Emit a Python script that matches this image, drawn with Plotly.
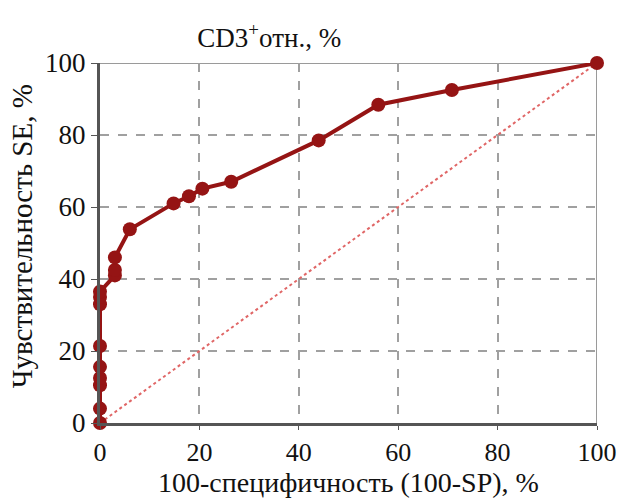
import plotly.graph_objects as go

fpr = [0, 0, 0, 0, 0, 0, 0, 0, 0, 3, 3, 3, 6, 14.8, 17.9, 20.6, 26.4, 44, 56, 70.8, 100]
tpr = [0, 4, 10.5, 12.5, 15.6, 21.4, 33, 35, 36.5, 41, 42.5, 46, 53.8, 61, 63, 65.1, 67, 78.5, 88.4, 92.5, 100]
diag_x = [0, 100]
diag_y = [0, 100]
ticks = [0, 20, 40, 60, 80, 100]
x_title = "100-специфичность (100-SP), %"
y_title = "Чувствительность SE, %"
main_title = "CD3<sup>+</sup>отн., %"

FONT = "Liberation Serif, Times New Roman, serif"
RED = "#951414"

fig = go.Figure()
fig.add_trace(go.Scatter(x=diag_x, y=diag_y, mode="lines",
                         line=dict(color="#e06666", width=2, dash="dot"),
                         hoverinfo="skip", showlegend=False))
fig.add_trace(go.Scatter(x=fpr, y=tpr, mode="lines+markers",
                         line=dict(color=RED, width=4),
                         marker=dict(color=RED, size=14),
                         cliponaxis=False, showlegend=False))

fig.add_shape(type="line", xref="x", yref="y", x0=0, x1=100, y0=100, y1=100,
              line=dict(color="#9a9a9a", width=2), layer="below")
fig.add_shape(type="line", xref="x", yref="y", x0=100, x1=100, y0=0, y1=100,
              line=dict(color="#9a9a9a", width=2), layer="below")

fig.add_annotation(text=x_title, xref="paper", yref="paper", x=0.5, y=-0.165,
                   xanchor="center", yanchor="middle", showarrow=False,
                   font=dict(family=FONT, size=28, color="#111"))
fig.add_annotation(text=y_title, xref="paper", yref="paper", x=-0.158, y=0.52,
                   xanchor="center", yanchor="middle", showarrow=False, textangle=-90,
                   font=dict(family=FONT, size=29, color="#111"))

fig.update_layout(
    width=619, height=499,
    margin=dict(l=100, r=22, t=63, b=76),
    paper_bgcolor="white", plot_bgcolor="white",
    font=dict(family=FONT, size=27, color="#111"),
    title=dict(text=main_title, x=0.435, xanchor="center",
               y=0.905, yanchor="bottom", font=dict(family=FONT, size=27)),
    xaxis=dict(range=[0, 100], tickvals=ticks, showgrid=True,
               gridcolor="#a0a0a0", griddash="dash", gridwidth=2,
               showline=True, linecolor="#555", linewidth=3,
               ticks="outside", ticklen=4, tickcolor="#555",
               zeroline=False, automargin=False,
               tickfont=dict(family=FONT, size=26)),
    yaxis=dict(range=[0, 100], tickvals=ticks, showgrid=True,
               gridcolor="#a0a0a0", griddash="dash", gridwidth=2,
               showline=True, linecolor="#555", linewidth=3,
               ticks="outside", ticklen=6, tickcolor="#555",
               zeroline=False, automargin=False,
               tickfont=dict(family=FONT, size=27)),
)

fig.write_html("out.html")
